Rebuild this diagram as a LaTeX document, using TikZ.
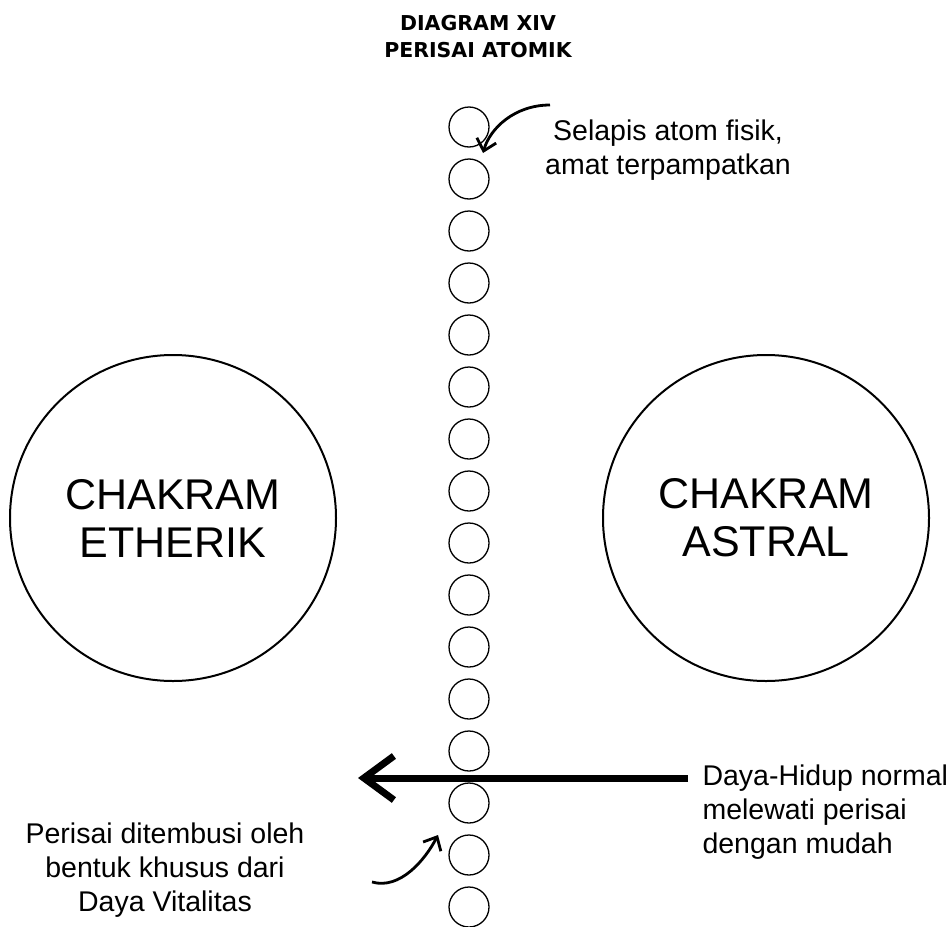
\documentclass[tikz,border=0pt]{standalone}
\usepackage{fontspec}
\setmainfont{Liberation Sans}
\newfontfamily\titlefont{DejaVu Sans}
\usetikzlibrary{arrows.meta}

\begin{document}
\begin{tikzpicture}[x=1pt, y=-1pt,
    atom/.style={draw, circle, line width=1.3pt, minimum size=40pt, inner sep=0pt},
    chakra/.style={draw, circle, line width=2pt, minimum size=326pt, inner sep=0pt, align=center, font=\fontsize{43}{48}\selectfont},
    note/.style={align=center, font=\fontsize{28.5}{34}\selectfont},
    pointer/.style={line width=2.8pt, -{Straight Barb[length=11pt, width=20pt]}}]
    \useasboundingbox (0, 0) rectangle (947, 926);

    \node[align=center, font=\titlefont\bfseries\fontsize{20.5}{27}\selectfont] (title) at (478, 37) {DIAGRAM XIV\\PERISAI ATOMIK};

    \node[atom] (a1) at (469, 127) {};
    \node[atom] (a2) at (469, 179) {};
    \node[atom] (a3) at (469, 231) {};
    \node[atom] (a4) at (469, 283) {};
    \node[atom] (a5) at (469, 335) {};
    \node[atom] (a6) at (469, 387) {};
    \node[atom] (a7) at (469, 439) {};
    \node[atom] (a8) at (469, 491) {};
    \node[atom] (a9) at (469, 543) {};
    \node[atom] (a10) at (469, 595) {};
    \node[atom] (a11) at (469, 647) {};
    \node[atom] (a12) at (469, 699) {};
    \node[atom] (a13) at (469, 751) {};
    \node[atom] (a14) at (469, 803) {};
    \node[atom] (a15) at (469, 855) {};
    \node[atom] (a16) at (469, 907) {};

    \node[chakra] (etherik) at (173, 518) {CHAKRAM\\ETHERIK};
    \node[chakra] (astral) at (766, 518) {CHAKRAM\\ASTRAL};

    \node[note] (shell) at (668, 150) {Selapis atom fisik,\\amat terpampatkan};
    \node[note, align=left, anchor=west] (flow) at (699, 812) {Daya-Hidup normal\\melewati perisai\\dengan mudah};
    \node[note] (pierce) at (165, 870) {Perisai ditembusi oleh\\bentuk khusus dari\\Daya Vitalitas};

    \coordinate (flowtail) at (688, 778);
    \coordinate (flowtip) at (358, 778);
    \draw[line width=7pt, -{Straight Barb[length=30pt, width=44pt]}] (flowtail) -- (flowtip);

    \coordinate (shelltail) at (550, 105);
    \coordinate (shelltip) at (483, 153);
    \draw[pointer] (shelltail) .. controls (515, 105) and (490, 128) .. (shelltip);

    \coordinate (piercetail) at (372, 882);
    \coordinate (piercetip) at (438, 835);
    \draw[pointer] (piercetail) .. controls (400, 890) and (425, 860) .. (piercetip);

\end{tikzpicture}
\end{document}
